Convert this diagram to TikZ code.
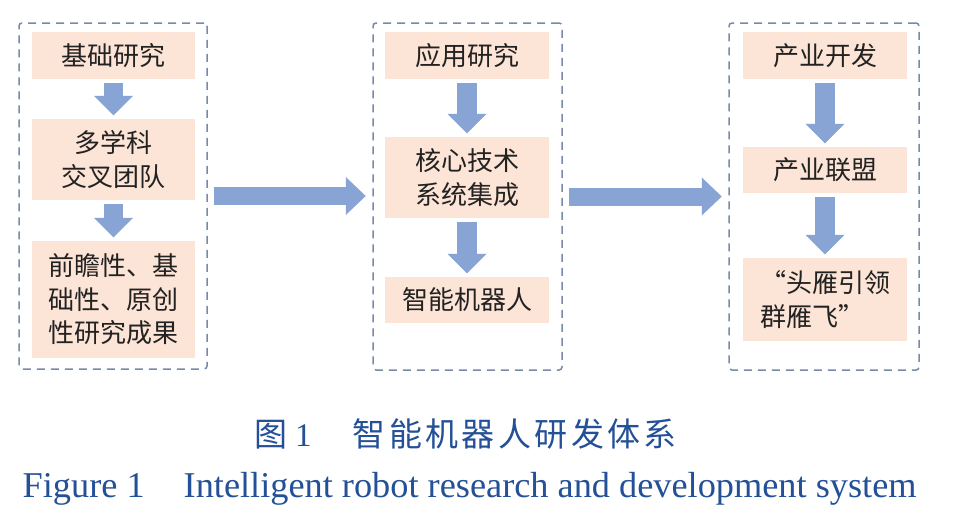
\documentclass[tikz,border=0pt]{standalone}
\usepackage{fontspec}
\setmainfont{Liberation Serif}
\newfontfamily\cjk{Noto Sans CJK SC}
\usetikzlibrary{arrows.meta}
\definecolor{boxfill}{RGB}{252,228,214}
\definecolor{arrowc}{RGB}{135,164,212}
\definecolor{dashc}{RGB}{120,138,170}
\definecolor{capc}{RGB}{35,80,150}
\definecolor{txt}{RGB}{34,34,34}
\newcommand\capsp{\kern3.4pt}
\begin{document}
\begin{tikzpicture}[x=1pt,y=-1pt,
  stepbox/.style={fill=boxfill, draw=none, inner sep=0pt, font=\cjk\fontsize{26}{33.5}\selectfont, text=txt, align=center},
  panel/.style={draw=dashc, line width=1.5pt, dash pattern=on 8pt off 6pt, rounded corners=3pt, inner sep=0pt},
  downarrow/.style={draw=arrowc, line width=19.5pt, -{Triangle[length=19.5pt,width=39pt,line width=0pt]}, shorten <=3.5pt, shorten >=3.5pt},
  bigarrow/.style={draw=arrowc, line width=18pt, -{Triangle[length=20pt,width=38pt,line width=0pt]}, shorten <=6.5pt, shorten >=6.5pt},
  captext/.style={text=capc, inner sep=0pt}
]
\useasboundingbox[fill=white] (0,0) rectangle (956,530);

% panels
\node[panel, minimum width=188pt, minimum height=346pt] (p1) at (113,196) {};
\node[panel, minimum width=189pt, minimum height=347pt] (p2) at (467.5,196.5) {};
\node[panel, minimum width=190pt, minimum height=347pt] (p3) at (824,196.5) {};

% panel 1
\node[stepbox, minimum width=163pt, minimum height=47pt] (a1) at (113.5,55.5) {基础研究};
\node[stepbox, minimum width=163pt, minimum height=81pt] (a2) at (113.5,159.5) {多学科\\交叉团队};
\node[stepbox, minimum width=163pt, minimum height=117pt] (a3) at (113.5,299.5) {前瞻性、基\\础性、原创\\性研究成果};

% panel 2
\node[stepbox, minimum width=164pt, minimum height=47pt] (b1) at (467,55.5) {应用研究};
\node[stepbox, minimum width=164pt, minimum height=81pt] (b2) at (467,177.5) {核心技术\\系统集成};
\node[stepbox, minimum width=164pt, minimum height=46pt] (b3) at (467,300) {智能机器人};

% panel 3
\node[stepbox, minimum width=164pt, minimum height=47pt] (c1) at (825,55.5) {产业开发};
\node[stepbox, minimum width=164pt, minimum height=46pt] (c2) at (825,170) {产业联盟};
\node[stepbox, minimum width=164pt, minimum height=83pt, align=left] (c3) at (825,299.5) {“头雁引领\\群雁飞”};

% arrows
\draw[downarrow] (a1) -- (a2);
\draw[downarrow] (a2) -- (a3);
\draw[downarrow] (b1) -- (b2);
\draw[downarrow] (b2) -- (b3);
\draw[downarrow] (c1) -- (c2);
\draw[downarrow] (c2) -- (c3);
\draw[bigarrow] (p1.east) -- (p2.west |- p1.east);
\draw[bigarrow] (p2.east) -- (p3.west |- p2.east);

% caption
\node[captext, anchor=base west, font=\fontsize{33}{36}\selectfont] (cap1) at (254,446.5)
  {{\cjk 图}\hspace{8pt}1\hspace{41pt}{\cjk 智\capsp 能\capsp 机\capsp 器\capsp 人\capsp 研\capsp 发\capsp 体\capsp 系}};
\node[captext, anchor=base west, font=\fontsize{36.3}{40}\selectfont] (cap2) at (22.5,497)
  {Figure 1\hspace{39pt}Intelligent robot research and development system};
\end{tikzpicture}
\end{document}
